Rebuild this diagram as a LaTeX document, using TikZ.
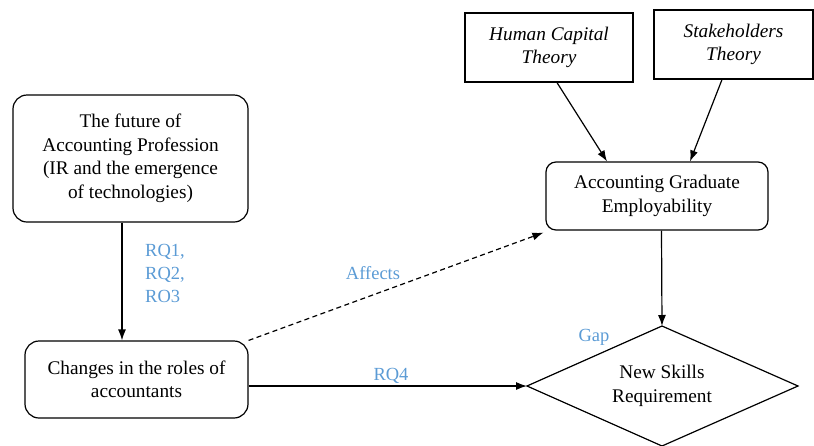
\documentclass[tikz,border=0pt]{standalone}
\usepackage{fontspec}
\setmainfont{Liberation Serif}
\usetikzlibrary{arrows.meta}
\definecolor{lblue}{HTML}{5B9BD5}
\tikzset{
  txt/.style={font=\fontsize{19.3}{23.5}\selectfont, align=center},
  rbox/.style={draw, line width=1.2pt, rounded corners=14pt, inner sep=0pt, txt},
  sbox/.style={draw, line width=1.2pt, inner sep=0pt, txt},
  arr/.style={line width=1.2pt, -{Latex[length=11pt,width=8pt]}},
  lbl/.style={text=lblue, font=\fontsize{18.5}{23}\selectfont, inner sep=0pt}
}
\begin{document}
\begin{tikzpicture}[x=1pt,y=-1pt]
\useasboundingbox (0,0) rectangle (814,445);
\node[rbox, minimum width=235pt, minimum height=127pt] (future) at (130.5,158.5)
  {The future of\\Accounting Profession\\(IR and the emergence\\of technologies)};
\node[rbox, minimum width=223pt, minimum height=77pt] (changes) at (136.5,379.5)
  {Changes in the roles of\\accountants};
\node[rbox, rounded corners=10pt, minimum width=222pt, minimum height=68pt] (age) at (657,196)
  {Accounting Graduate\\Employability};
\node[sbox, minimum width=168pt, minimum height=69pt] (hc) at (549,47.5)
  {\itshape Human Capital\\\itshape Theory};
\node[sbox, minimum width=159pt, minimum height=69pt] (sh) at (733.5,44.5)
  {\itshape Stakeholders\\\itshape Theory};
\coordinate (dl) at (527,386);
\coordinate (dt) at (662,326);
\coordinate (dr) at (798,386);
\coordinate (db) at (662,446);
\draw[line width=1.2pt] (dl) -- (dt) -- (dr) -- (db) -- cycle;
\node[txt, inner sep=0pt] (nsr) at (662,386) {New Skills\\Requirement};

\draw[arr] ([xshift=-8.5pt]future.south) -- ([xshift=-8.5pt]future.south |- changes.north);
\node[lbl, anchor=west, align=left] (rq) at (145,273) {RQ1,\\RQ2,\\RO3};
\draw[arr, dash pattern=on 5pt off 3.5pt] (changes.north east) -- ([xshift=-2pt,yshift=-2pt]age.south west);
\node[lbl] (aff) at (373,273) {Affects};
\draw[arr] (changes.east |- dl) -- (dl);
\node[lbl] (rq4) at (391,376) {RQ4};
\draw[arr] ([xshift=8pt]hc.south) -- ([xshift=-50pt]age.north);
\draw[arr] ([xshift=-11.5pt]sh.south) -- ([xshift=33pt]age.north);
\draw[arr] ([xshift=4.5pt]age.south) -- (dt);
\node[lbl] (gap) at (594,337) {Gap};
\end{tikzpicture}
\end{document}
